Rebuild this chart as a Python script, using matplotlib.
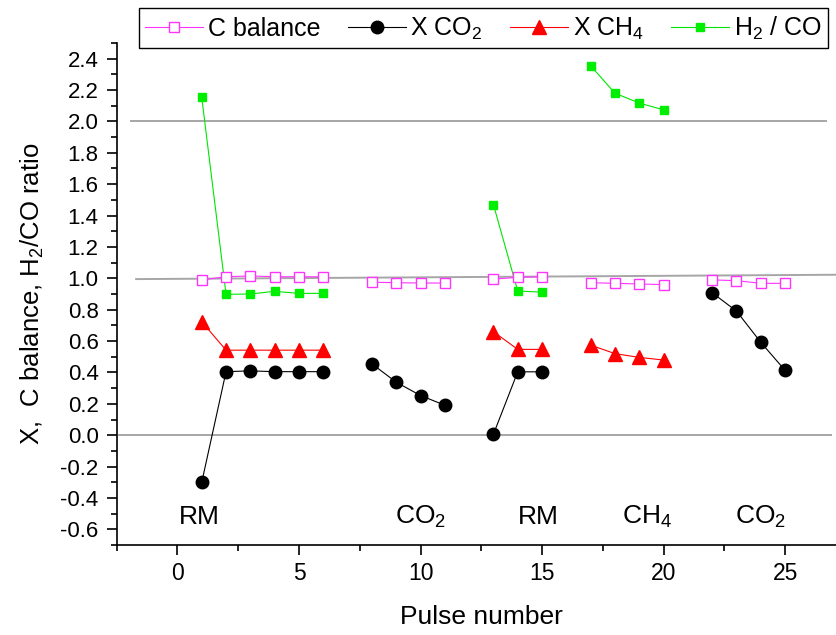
import numpy as np
import matplotlib.pyplot as plt
from matplotlib.ticker import MultipleLocator, FormatStrFormatter

plt.rcParams['font.family'] = ['Liberation Sans', 'DejaVu Sans']
plt.rcParams['mathtext.fontset'] = 'custom'
plt.rcParams['mathtext.rm'] = 'Liberation Sans'
plt.rcParams['mathtext.it'] = 'Liberation Sans:italic'
plt.rcParams['axes.unicode_minus'] = False

nan = np.nan

# pulse numbers; gaps between feed periods break the lines
pulse = np.arange(1, 26)

c_balance = [0.99, 1.01, 1.015, 1.01, 1.01, 1.01, nan,
             0.975, 0.972, 0.97, 0.97, nan,
             0.995, 1.006, 1.01, nan,
             0.972, 0.968, 0.964, 0.96, nan,
             0.99, 0.985, 0.968, 0.968]

x_co2 = [-0.30, 0.405, 0.41, 0.405, 0.405, 0.405, nan,
         0.455, 0.338, 0.253, 0.191, nan,
         0.006, 0.404, 0.404, nan,
         nan, nan, nan, nan, nan,
         0.908, 0.791, 0.592, 0.413]

x_ch4 = [0.723, 0.542, 0.542, 0.542, 0.542, 0.542, nan,
         nan, nan, nan, nan, nan,
         0.66, 0.547, 0.547, nan,
         0.574, 0.52, 0.496, 0.479, nan,
         nan, nan, nan, nan]

h2_co = [2.153, 0.898, 0.90, 0.917, 0.904, 0.904, nan,
         nan, nan, nan, nan, nan,
         1.47, 0.919, 0.912, nan,
         2.355, 2.18, 2.117, 2.074, nan,
         nan, nan, nan, nan]

# feed labels under the data
feed_labels = ['RM', 'CO$_2$', 'RM', 'CH$_4$', 'CO$_2$']
feed_x = [0.9, 10.0, 14.85, 19.3, 24.0]
feed_y = -0.52

# grey guide lines at 0, 1 and 2
guide_x = [[-2.4, 26.9], [-1.7, 27.3], [-1.9, 26.7]]
guide_y = [[0.0, 0.0], [0.995, 1.023], [2.0, 2.0]]

fig = plt.figure(figsize=(8.37, 6.35), dpi=100)
ax = fig.add_axes([0.1394, 0.1417, 0.8712, 0.7906])

for gx, gy in zip(guide_x, guide_y):
    ax.plot(gx, gy, color='#a6a6a6', lw=1.4, zorder=1)

ax.plot(pulse, c_balance, color='#ff33ff', lw=0.8, marker='s', ms=7.2,
        mfc='white', mec='#ff33ff', mew=1.0, label='C balance', zorder=5)
ax.plot(pulse, x_co2, color='black', lw=0.8, marker='o', ms=9,
        mfc='black', mec='black', label='X CO$_2$', zorder=4)
ax.plot(pulse, x_ch4, color='red', lw=0.8, marker='^', ms=10,
        mfc='red', mec='red', label='X CH$_4$', zorder=4)
ax.plot(pulse, h2_co, color='#00e600', lw=0.8, marker='s', ms=6.3,
        mfc='#00ee00', mec='#00ee00', label='H$_2$ / CO', zorder=3)

for lab, fx in zip(feed_labels, feed_x):
    ax.text(fx, feed_y, lab, ha='center', va='center', fontsize=19)

ax.set_xlim(-2.5, 27.5)
ax.set_ylim(-0.7, 2.5)
ax.xaxis.set_major_locator(MultipleLocator(5))
ax.xaxis.set_minor_locator(MultipleLocator(2.5))
ax.yaxis.set_minor_locator(MultipleLocator(0.1))
ax.set_yticks(np.arange(-0.6, 2.41, 0.2))
ax.yaxis.set_major_formatter(FormatStrFormatter('%.1f'))

ax.tick_params(which='major', direction='out', length=7.5, width=1.2)
ax.tick_params(which='minor', direction='out', length=4, width=1.2)
ax.tick_params(axis='x', which='major', pad=5, labelsize=16.5)
ax.tick_params(axis='y', which='major', pad=5.5, labelsize=16)
for side in ['top', 'right']:
    ax.spines[side].set_visible(False)
for side in ['left', 'bottom']:
    ax.spines[side].set_linewidth(1.2)

ax.set_xlabel('Pulse number', fontsize=19, labelpad=14)
ax.set_ylabel('X,  C balance, H$_2$/CO ratio', fontsize=18.5, labelpad=10)

leg = fig.legend(loc='upper left', bbox_to_anchor=(139 / 837, 1 - 8 / 635),
                 ncol=4, fontsize=18, frameon=True, fancybox=False,
                 edgecolor='black', framealpha=1, markerscale=1.0,
                 handlelength=2.3, handletextpad=0.2, columnspacing=1.1,
                 borderpad=0.26, borderaxespad=0)
leg.get_frame().set_linewidth(1.0)

fig.savefig('out.png', dpi=100, facecolor='white')
